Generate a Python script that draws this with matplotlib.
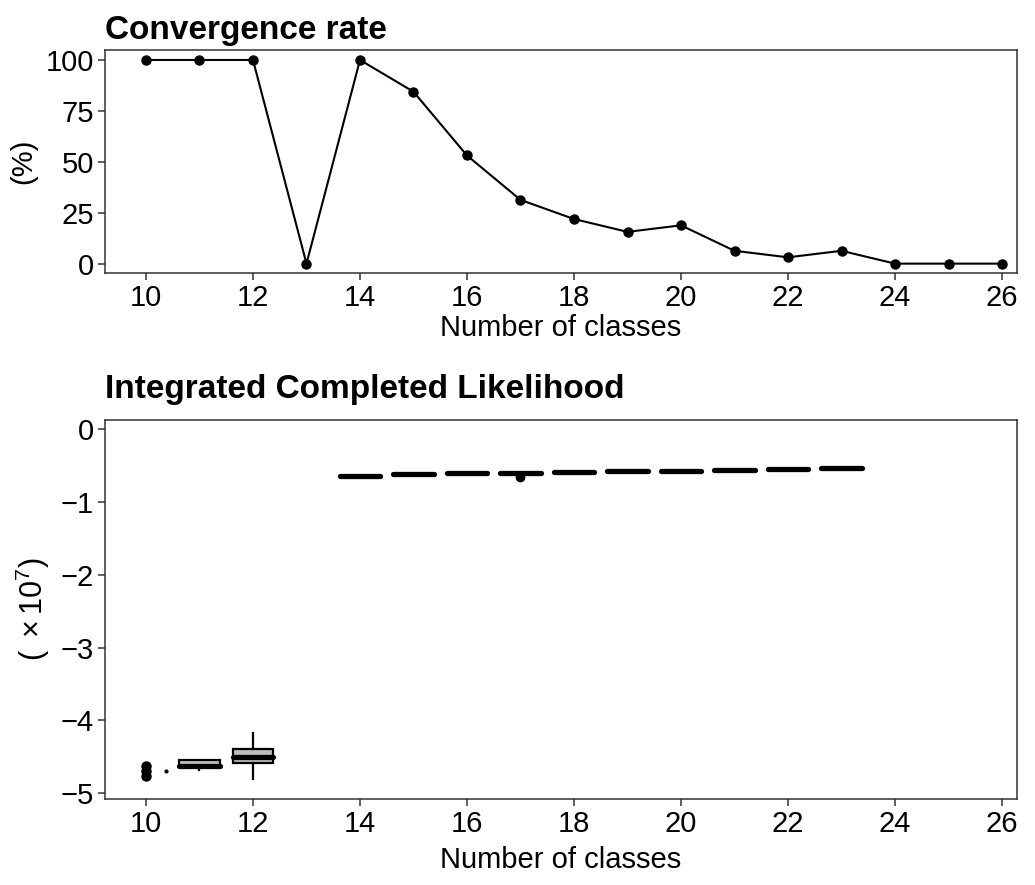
import matplotlib
matplotlib.use("Agg")
import matplotlib.pyplot as plt

plt.rcParams['font.family'] = ['Liberation Sans', 'DejaVu Sans']
plt.rcParams['mathtext.fontset'] = 'custom'
plt.rcParams['mathtext.rm'] = 'Liberation Sans'
plt.rcParams['mathtext.it'] = 'Liberation Sans:italic'

# ---- data ----
n_classes = [10, 11, 12, 13, 14, 15, 16, 17, 18, 19, 20, 21, 22, 23, 24, 25, 26]
convergence_pct = [100, 100, 100, 0, 100, 84.4, 53.1, 31.3, 21.9, 15.6, 18.8,
                   6.3, 3.1, 6.3, 0, 0, 0]

box_classes = [11, 12, 14, 15, 16, 17, 18, 19, 20, 21, 22, 23]
box_whislo = [-4.68, -4.80, -0.646, -0.618, -0.600, -0.604, -0.590, -0.578, -0.572, -0.560, -0.545, -0.532]
box_q1 = [-4.63, -4.59, -0.646, -0.618, -0.600, -0.604, -0.590, -0.578, -0.572, -0.560, -0.545, -0.532]
box_med = [-4.63, -4.50, -0.646, -0.618, -0.600, -0.604, -0.590, -0.578, -0.572, -0.560, -0.545, -0.532]
box_q3 = [-4.54, -4.39, -0.646, -0.618, -0.600, -0.604, -0.590, -0.578, -0.572, -0.560, -0.545, -0.532]
box_whishi = [-4.54, -4.17, -0.646, -0.618, -0.600, -0.604, -0.590, -0.578, -0.572, -0.560, -0.545, -0.532]
box_fliers = [[], [], [], [], [], [-0.655], [], [], [], [], [], []]

outlier_class = [10, 10, 10]
outlier_icl = [-4.63, -4.70, -4.76]
stray_class = [10.38]
stray_icl = [-4.70]

xticks = [10, 12, 14, 16, 18, 20, 22, 24, 26]
top_yticks = [0, 25, 50, 75, 100]
bottom_yticks = [0, -1, -2, -3, -4, -5]

# ---- figure ----
W, H = 1035, 885
fig = plt.figure(figsize=(W / 100, H / 100), dpi=100)

def px_axes(l, t, r, b):
    return fig.add_axes([l / W, 1 - b / H, (r - l) / W, (b - t) / H])

ax1 = px_axes(105, 50, 1017, 273)
ax2 = px_axes(105, 420, 1017, 799)

dark = '#333333'
tick_fs = 21
lab_fs = 21
title_fs = 24

for ax in (ax1, ax2):
    for s in ax.spines.values():
        s.set_color(dark)
        s.set_linewidth(1.1)
    ax.tick_params(axis='both', colors=dark, labelcolor='black', length=5,
                   width=1.1, labelsize=tick_fs, pad=3)
    ax.set_xlim(9.234, 26.28)
    ax.set_xticks(xticks)

# top panel
ax1.plot(n_classes, convergence_pct, color='black', lw=1.5, marker='o',
         markersize=6.5, zorder=3)
ax1.set_ylim(-4.6, 104.9)
ax1.set_yticks(top_yticks)
ax1.set_xlabel('Number of classes', fontsize=lab_fs, labelpad=1)
ax1.set_ylabel('(%)', fontsize=lab_fs, labelpad=6)
ax1.set_title('Convergence rate', loc='left', fontsize=title_fs,
              fontweight='bold', pad=8)

# bottom panel
stats = []
for i in range(len(box_classes)):
    stats.append(dict(whislo=box_whislo[i], q1=box_q1[i], med=box_med[i],
                      q3=box_q3[i], whishi=box_whishi[i], fliers=box_fliers[i]))
ax2.bxp(stats, positions=box_classes, widths=0.75, patch_artist=True,
        showcaps=False, manage_ticks=False,
        boxprops=dict(facecolor='#bebebe', edgecolor='black', linewidth=1.6),
        medianprops=dict(color='black', linewidth=3.8, solid_capstyle='round'),
        whiskerprops=dict(color='black', linewidth=1.6),
        flierprops=dict(marker='o', markerfacecolor='black',
                        markeredgecolor='black', markersize=6))
ax2.plot(outlier_class, outlier_icl, 'o', color='black', markersize=6.5, ls='none')
ax2.plot(stray_class, stray_icl, 'o', color='black', markersize=2, ls='none')
ax2.set_ylim(-5.08, 0.124)
ax2.set_yticks(bottom_yticks)
ax2.set_yticklabels(['0' if v == 0 else '\u2212' + str(abs(v)) for v in bottom_yticks])
ax2.set_xlabel('Number of classes', fontsize=lab_fs, labelpad=6)
ax2.set_ylabel(r'$(\ \times 10^{7})$', fontsize=lab_fs + 1, labelpad=6)
ax2.set_title('Integrated Completed Likelihood', loc='left', fontsize=title_fs,
              fontweight='bold', pad=16)

fig.savefig('out.png', dpi=100)
